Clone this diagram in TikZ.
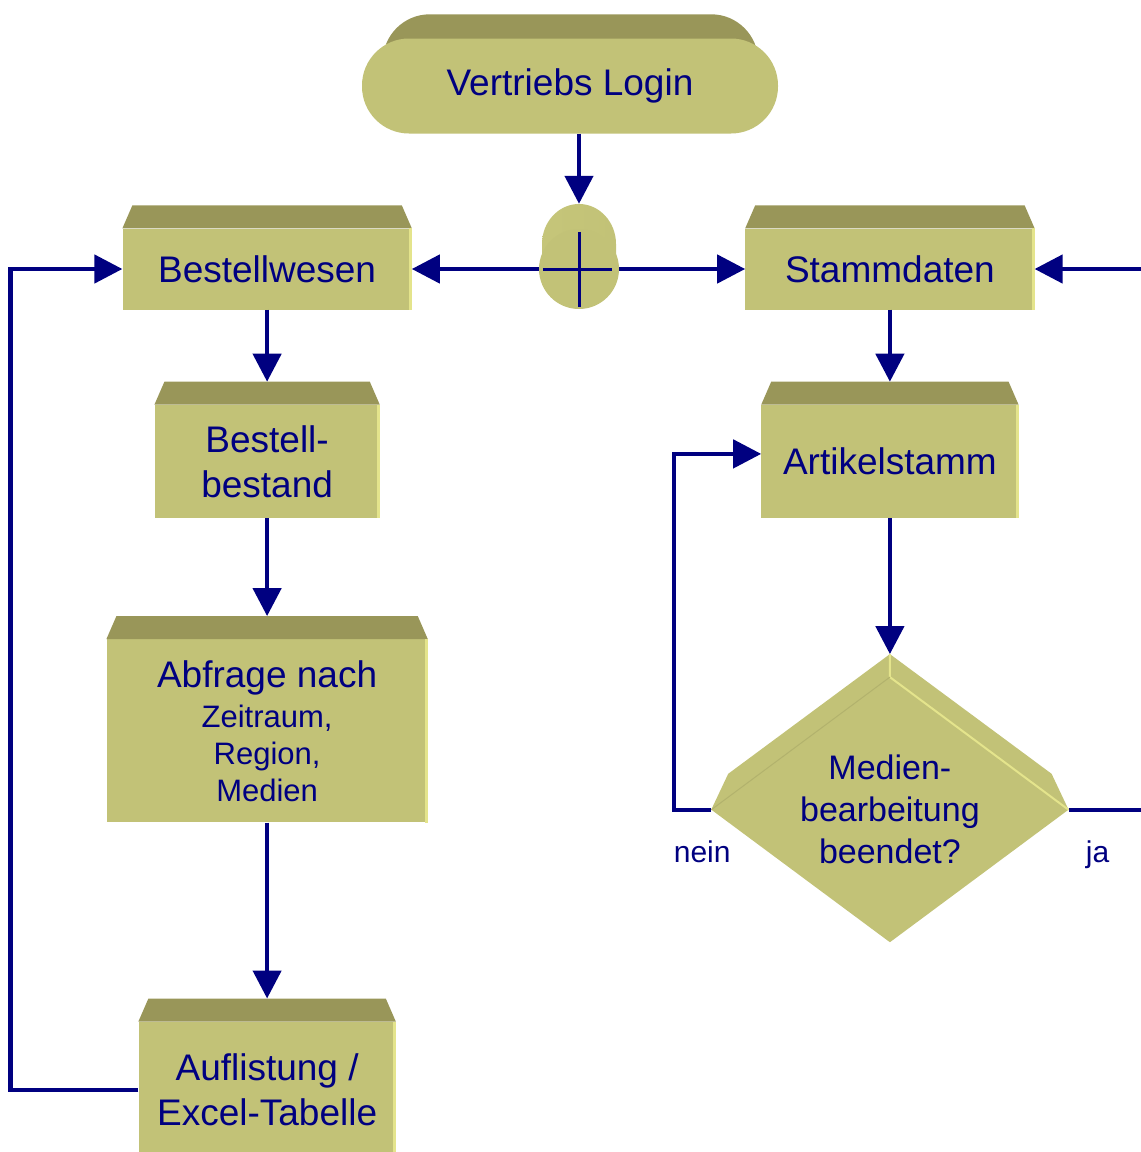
\documentclass[tikz,border=0pt]{standalone}
\usepackage{fontspec}
\setmainfont{Liberation Sans}
\usetikzlibrary{positioning, shapes.geometric, arrows.meta}
\definecolor{face}{RGB}{194,194,119}
\definecolor{roof}{RGB}{153,150,89}
\definecolor{glint}{RGB}{228,228,140}
\definecolor{ink}{RGB}{0,0,128}
\pgfdeclarelayer{back}
\pgfsetlayers{back,main}
\tikzset{func node/.style={rectangle,fill=face,text=ink,align=center,inner sep=0pt,font=\fontsize{37}{45}\selectfont},
  term node/.style={rectangle,rounded corners=47pt,fill=face,text=ink,minimum width=416pt,minimum height=95pt,inner sep=0pt,font=\fontsize{37}{45}\selectfont},
  xor node/.style={circle,fill=face,minimum size=80pt,inner sep=0pt},
  dec node/.style={diamond,shape aspect=1.35,fill=face,text=ink,align=center,minimum width=357pt,minimum height=265pt,inner sep=0pt,font=\fontsize{34}{42}\selectfont},
  flow line/.style={draw=ink,line width=4.5pt},
  flow/.style={flow line,-{Triangle[length=28pt,width=28pt]}},
  label text/.style={text=ink,anchor=base,font=\fontsize{30}{36}\selectfont}}

\begin{document}
\begin{tikzpicture}[x=1pt,y=-1pt]
            \useasboundingbox (0,0) rectangle (1141,1152);
            \node[term node] (login) at (570,86) {Vertriebs Login};
            \node[xor node] (xor) at (579,269) {};
            \node[func node, minimum width=289pt, minimum height=81pt] (best) [left = 127pt of xor] {Bestellwesen};
            \node[func node, minimum width=289pt, minimum height=81pt] (stamm) [right = 126pt of xor] {Stammdaten};
            \node[func node, minimum width=225pt, minimum height=113pt] (bestand) [below = 95pt of best] {Bestell-\\bestand};
            \node[func node, minimum width=321pt, minimum height=183pt, font=\fontsize{31}{37}\selectfont] (abfrage) [below = 121pt of bestand]
                {{\fontsize{37}{45}\selectfont Abfrage nach}\\[3pt]Zeitraum,\\Region,\\Medien};
            \node[func node, minimum width=257pt, minimum height=137pt] (aufl) [below = 199pt of abfrage] {Auflistung /\\Excel-Tabelle};
            \node[func node, minimum width=257pt, minimum height=113pt] (artikel) [below = 95pt of stamm] {Artikelstamm};
            \node[dec node] (ende) [below = 159pt of artikel] {Medien-\\bearbeitung\\beendet?};

            % 3D look
            \foreach \n in {best,stamm,bestand,abfrage,aufl,artikel} {
              \fill[roof] (\n.north west) -- ([shift={(10pt,23pt)}]\n.north west) -- ([shift={(-10pt,23pt)}]\n.north east) -- (\n.north east) -- cycle;
              \draw[glint, line width=3pt] ([xshift=-1.5pt]\n.north east) -- ([xshift=-1.5pt]\n.south east);
            }
            \begin{pgfonlayer}{back}
              \fill[roof, rounded corners=47pt] ([shift={(21pt,24pt)}]login.south west) rectangle ([shift={(-20pt,24pt)}]login.north east);
              \shade[left color=face!90!glint, middle color=roof!40!face, right color=face] ([shift={(-37pt,25pt)}]xor.center) rectangle ([xshift=37pt]xor.center);
              \shade[left color=face!90!glint, middle color=roof!40!face, right color=face] ([yshift=25pt]xor.center) ellipse [x radius=37pt, y radius=40pt];
              \fill[face] (ende.west) -- ([shift={(17pt,36pt)}]ende.west) -- ([yshift=23pt]ende.north) -- ([shift={(-17pt,36pt)}]ende.east) -- (ende.east) -- cycle;
            \end{pgfonlayer}
            \draw[glint, line width=2pt] ([yshift=23pt]ende.north) -- (ende.north) -- (ende.east);
            \draw[face!92!black, line width=1pt] (ende.north) -- (ende.west);
            \draw[ink, line width=3pt] ([yshift=-3pt]xor.north) -- ([yshift=2pt]xor.south);
            \draw[ink, line width=3pt] ([xshift=4pt]xor.west) -- ([xshift=-7pt]xor.east);

            \coordinate (inR) at (1141,269);
            \coordinate (lx) at (10.5,0);
            \coordinate (nx) at (674,0);
            \coordinate (jx) at (1141,0);

            \path
            (login.south -| xor) edge[flow] ([yshift=25pt]xor.north)
            (xor.west) edge[flow] (best.east)
            (xor.east) edge[flow] (stamm.west)
            (inR) edge[flow] (stamm.east)
            (best.south) edge[flow] ([yshift=23pt]bestand.north)
            (bestand.south) edge[flow] ([yshift=23pt]abfrage.north)
            (abfrage.south) edge[flow] ([yshift=23pt]aufl.north)
            (stamm.south) edge[flow] ([yshift=23pt]artikel.north)
            (artikel.south) edge[flow] ([yshift=23pt]ende.north);

            \draw[flow] (aufl.west) -- (aufl.west -| lx) |- (best.west);
            \draw[flow] (ende.west) -- (ende.west -| nx) |- ([yshift=7.5pt]artikel.west);
            \draw[flow line] (ende.east) -- (ende.east -| jx);

            \node[label text] (nein) at ([shift={(-9pt,-53pt)}]ende.west) {nein};
            \node[label text] (ja) at ([shift={(29pt,-53pt)}]ende.east) {ja};
        \end{tikzpicture}
\end{document}
